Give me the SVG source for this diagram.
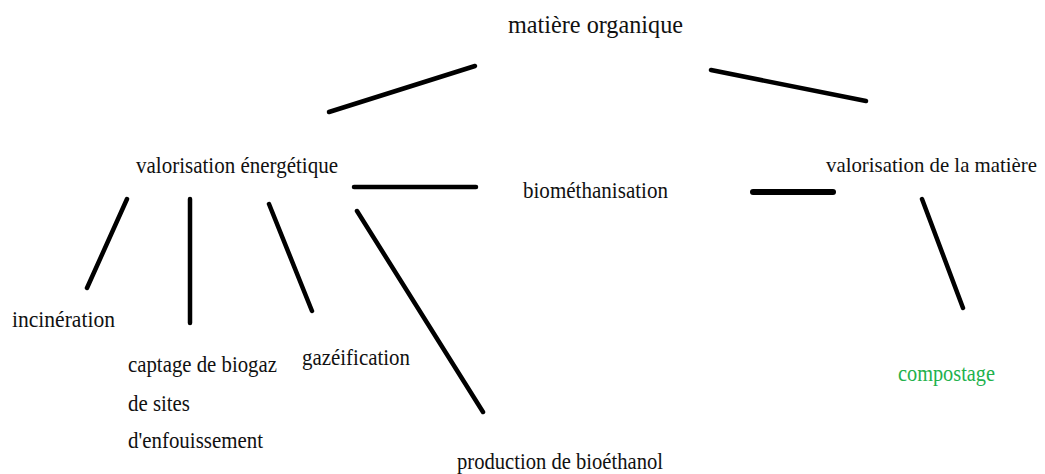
<svg xmlns="http://www.w3.org/2000/svg" width="1045" height="474" viewBox="0 0 1045 474">
<style>
text{font-family:"Liberation Serif","Times New Roman",serif;font-size:23px;fill:#111}
.big{font-size:26px}
.mid{font-size:21.5px}
.green{fill:#22b14c}
.c line{stroke:#000;stroke-width:4.5;stroke-linecap:round}
</style>
<rect width="1045" height="474" fill="#fff"/>
<g class="c" id="connectors">
<line x1="329" y1="112" x2="475" y2="66"/>
<line x1="711" y1="70" x2="866" y2="101"/>
<line x1="354" y1="187" x2="476" y2="187"/>
<line x1="127" y1="199" x2="87" y2="288"/>
<line x1="190" y1="199" x2="190" y2="323"/>
<line x1="269" y1="204" x2="312" y2="311"/>
<line x1="357" y1="211" x2="483" y2="412"/>
<line x1="753" y1="192" x2="833" y2="192" style="stroke-width:6"/>
<line x1="922" y1="199" x2="963" y2="308"/>
</g>
<g id="n-matiere"><text class="big" x="508" y="33" textLength="175" lengthAdjust="spacingAndGlyphs">matière organique</text></g>
<g id="n-energetique"><text x="136" y="173" textLength="202" lengthAdjust="spacingAndGlyphs">valorisation énergétique</text></g>
<g id="n-biomethanisation"><text x="523" y="198" textLength="145" lengthAdjust="spacingAndGlyphs">biométhanisation</text></g>
<g id="n-matiere-val"><text class="mid" x="826" y="172" textLength="211" lengthAdjust="spacingAndGlyphs">valorisation de la matière</text></g>
<g id="n-incineration"><text x="12" y="327" textLength="103" lengthAdjust="spacingAndGlyphs">incinération</text></g>
<g id="n-captage">
<text x="128" y="372" textLength="149" lengthAdjust="spacingAndGlyphs">captage de biogaz</text>
<text x="128" y="411" textLength="62" lengthAdjust="spacingAndGlyphs">de sites</text>
<text x="128" y="448" textLength="135" lengthAdjust="spacingAndGlyphs">d'enfouissement</text>
</g>
<g id="n-gazeification"><text x="302" y="365" textLength="108" lengthAdjust="spacingAndGlyphs">gazéification</text></g>
<g id="n-bioethanol"><text x="457" y="469" textLength="206" lengthAdjust="spacingAndGlyphs">production de bioéthanol</text></g>
<g id="n-compostage"><text class="green" x="898" y="381" textLength="97" lengthAdjust="spacingAndGlyphs">compostage</text></g>
</svg>
